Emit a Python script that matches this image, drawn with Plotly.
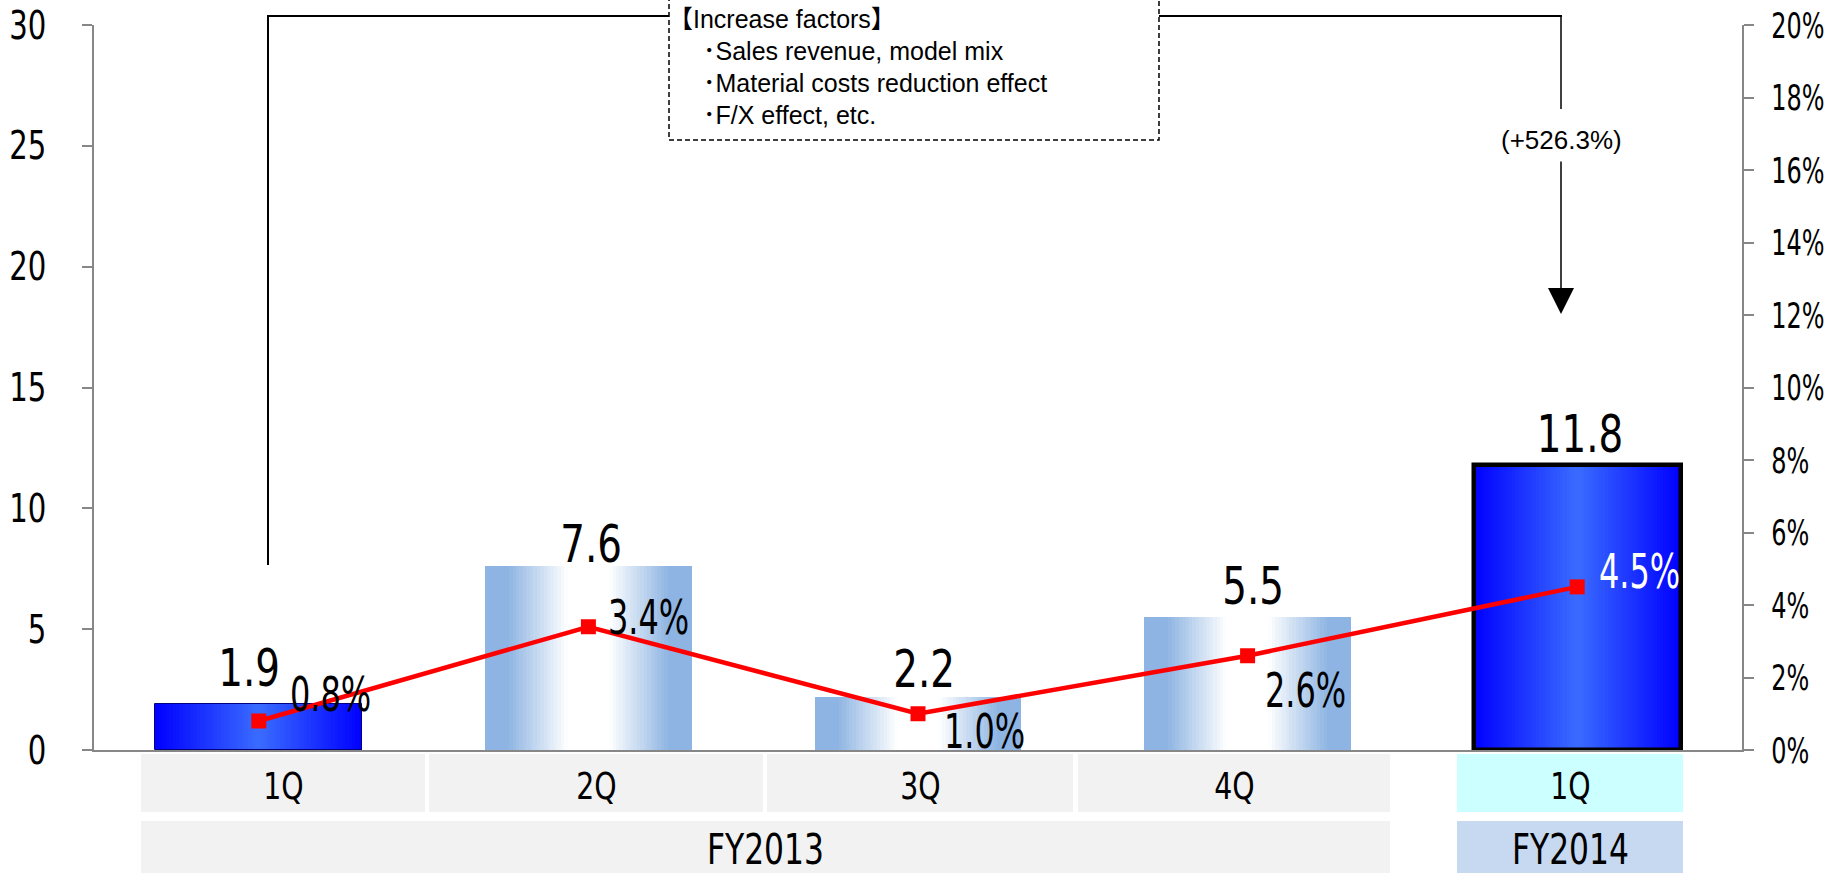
import plotly.graph_objects as go

# ---------------- data ----------------
quarters = ["1Q", "2Q", "3Q", "4Q", "1Q"]
fiscal_years = ["FY2013", "FY2014"]
op_income = [1.9, 7.6, 2.2, 5.5, 11.8]          # bars, left axis
op_margin = [0.8, 3.4, 1.0, 2.6, 4.5]           # line, right axis (%)
income_labels = ["1.9", "7.6", "2.2", "5.5", "11.8"]
margin_labels = ["0.8%", "3.4%", "1.0%", "2.6%", "4.5%"]
left_ticks = [0, 5, 10, 15, 20, 25, 30]
right_ticks = [0, 2, 4, 6, 8, 10, 12, 14, 16, 18, 20]
right_ticktext = ["0%", "2%", "4%", "6%", "8%", "10%", "12%", "14%", "16%", "18%", "20%"]
yoy_text = "(+526.3%)"
factor_title = "【Increase factors】"
factor_items = ["Sales revenue, model mix", "Material costs reduction effect", "F/X effect, etc."]

# ---------------- style ----------------
W, H = 1847, 873
ML, MR, MT, MB = 94, 105, 25, 123
PW, PH = W - ML - MR, H - MT - MB
NARROW = "DejaVu Sans Condensed"
REG = "'Liberation Sans', Arial, 'Noto Sans CJK JP', sans-serif"
AXIS_COL = "#878787"
highlight = [True, False, False, False, True]
BAR_W = 0.628
N_STEPS = 30


def px(v):
    return (v - ML) / PW


def py(v):
    return (H - MB - v) / PH


def mix(c1, c2, f):
    a = [int(c1[i:i + 2], 16) for i in (1, 3, 5)]
    b = [int(c2[i:i + 2], 16) for i in (1, 3, 5)]
    return "rgb(%d,%d,%d)" % tuple(round(a[j] + (b[j] - a[j]) * f) for j in range(3))


def grad(t, hl):
    # t: 0 at bar centre, 1 at bar edge
    if hl:
        return mix("#3A6CFF", "#0000FF", t)
    f = min(max((t - 0.2) / 0.58, 0), 1)
    return mix("#FFFFFF", "#8DB4E2", f)


x = list(range(len(quarters)))
fig = go.Figure()

for k in range(N_STEPS):
    frac = 1 - k / N_STEPS
    t = 1 - (k + 0.5) / N_STEPS
    fig.add_trace(go.Bar(
        x=x, y=op_income, width=BAR_W * frac,
        marker=dict(color=[grad(t, h) for h in highlight], line=dict(width=0)),
        showlegend=False, hoverinfo="skip"))

# outline
fig.add_trace(go.Bar(
    x=x, y=op_income, width=BAR_W,
    marker=dict(color="rgba(0,0,0,0)",
                line=dict(width=[1, 0, 0, 0, 4.5],
                          color=["#000080", "rgba(0,0,0,0)", "rgba(0,0,0,0)", "rgba(0,0,0,0)", "#000000"])),
    showlegend=False, hoverinfo="skip"))

fig.add_trace(go.Scatter(
    x=x, y=op_margin, yaxis="y2", mode="lines+markers",
    line=dict(color="#FF0000", width=4.5),
    marker=dict(symbol="square", size=15, color="#FF0000"),
    showlegend=False, hoverinfo="skip", cliponaxis=False))

annotations = []
# value labels above bars
val_shift = [(-10, 4), (3, -10), (6, -4), (5, -1), (3, -1)]
for i, lab in enumerate(income_labels):
    annotations.append(dict(x=x[i], y=op_income[i], xref="x", yref="y", text=lab,
                            showarrow=False, xanchor="center", yanchor="bottom",
                            xshift=val_shift[i][0], yshift=val_shift[i][1],
                            font=dict(family=NARROW, size=52, color="#000000")))

# margin labels
pct_shift = [(29, 27), (18, 10), (24, -17), (15, -34), (20, 16)]
pct_col = ["#000000"] * 4 + ["#FFFFFF"]
for i, lab in enumerate(margin_labels):
    annotations.append(dict(x=x[i], y=op_margin[i], xref="x", yref="y2", text=lab,
                            showarrow=False, xanchor="left", yanchor="middle", align="left",
                            xshift=pct_shift[i][0], yshift=pct_shift[i][1],
                            font=dict(family=NARROW, size=48, color=pct_col[i])))

shapes = []
# category table
row1 = [(141, 425), (429, 763), (767, 1073), (1078, 1390), (1457, 1683)]
row1_col = ["#F2F2F2"] * 4 + ["#CCFFFF"]
for (a, b), c, q in zip(row1, row1_col, quarters):
    shapes.append(dict(type="rect", xref="paper", yref="paper", x0=px(a), x1=px(b),
                       y0=py(812), y1=py(754), fillcolor=c, line=dict(width=0), layer="below"))
    annotations.append(dict(x=px((a + b) / 2), y=py(786), xref="paper", yref="paper", text=q,
                            showarrow=False, xanchor="center", yanchor="middle",
                            font=dict(family=NARROW, size=38, color="#000000")))
row2 = [(141, 1390), (1457, 1683)]
row2_col = ["#F2F2F2", "#C6D9F1"]
for (a, b), c, fy in zip(row2, row2_col, fiscal_years):
    shapes.append(dict(type="rect", xref="paper", yref="paper", x0=px(a), x1=px(b),
                       y0=py(880), y1=py(821), fillcolor=c, line=dict(width=0), layer="below"))
    annotations.append(dict(x=px((a + b) / 2), y=py(849), xref="paper", yref="paper", text=fy,
                            showarrow=False, xanchor="center", yanchor="middle",
                            font=dict(family=NARROW, size=42, color="#000000")))


# bracket lines
def seg(x0, y0, x1, y1, w):
    shapes.append(dict(type="line", xref="paper", yref="paper", x0=px(x0), y0=py(y0),
                       x1=px(x1), y1=py(y1), line=dict(color="#000000", width=w)))


seg(268, 16, 268, 565, 2)
seg(267, 16, 669, 16, 2)
seg(1159, 16, 1562, 16, 2)
seg(1561, 16, 1561, 109, 1.5)
shapes.append(dict(type="rect", xref="paper", yref="paper", x0=px(669), x1=px(1159),
                   y0=py(140), y1=py(-10), fillcolor="#FFFFFF",
                   line=dict(color="#000000", width=1.5, dash="5px,3px")))

annotations.append(dict(x=px(666), y=py(19), xref="paper", yref="paper", text=factor_title,
                        showarrow=False, xanchor="left", yanchor="middle",
                        font=dict(family=REG, size=25, color="#000000")))
for j, item in enumerate(factor_items):
    annotations.append(dict(x=px(701), y=py(51 + 32 * j), xref="paper", yref="paper",
                            text="･" + item, showarrow=False, xanchor="left", yanchor="middle",
                            font=dict(family=REG, size=25, color="#000000")))

# growth arrow
annotations.append(dict(x=px(1561), y=py(314), xref="paper", yref="paper", text=yoy_text,
                        showarrow=True, arrowhead=2, arrowwidth=1.5, arrowsize=3.47,
                        arrowcolor="#000000", ax=0, ay=-174, startstandoff=5,
                        font=dict(family=REG, size=26, color="#000000")))

fig.update_layout(
    width=W, height=H, margin=dict(l=ML, r=MR, t=MT, b=MB, autoexpand=False),
    barmode="overlay", bargap=0,
    plot_bgcolor="#FFFFFF", paper_bgcolor="#FFFFFF",
    showlegend=False,
    xaxis=dict(range=[-0.5, 4.5], showticklabels=False, ticks="", showgrid=False, zeroline=False,
               showline=True, linecolor=AXIS_COL, linewidth=2, automargin=False),
    yaxis=dict(range=[0, 30], tickvals=left_ticks, ticks="outside", ticklen=10, tickwidth=2,
               tickcolor=AXIS_COL, showline=True, linecolor=AXIS_COL, linewidth=2,
               showgrid=False, zeroline=False, ticklabelstandoff=28, automargin=False,
               tickfont=dict(family=NARROW, size=39, color="#000000")),
    yaxis2=dict(range=[0, 20], overlaying="y", side="right", tickvals=right_ticks,
                ticktext=right_ticktext, ticks="outside", ticklen=10, tickwidth=2,
                tickcolor=AXIS_COL, showline=True, linecolor=AXIS_COL, linewidth=2,
                showgrid=False, zeroline=False, ticklabelstandoff=10, automargin=False,
                tickfont=dict(family=NARROW, size=36, color="#000000")),
    shapes=shapes, annotations=annotations,
)

post = """
document.body.style.margin='0';
document.body.style.overflow='hidden';
document.querySelectorAll('text').forEach(function(t){
  var ff = (t.style && t.style.fontFamily) || '';
  if (ff.indexOf('Condensed') < 0) return;
  var s = t.textContent || '';
  var f = s.indexOf('%') >= 0 ? 0.74 : 0.83;
  var L = t.getComputedTextLength();
  if (L > 0) {
    t.setAttribute('textLength', (L * f).toFixed(2));
    t.setAttribute('lengthAdjust', 'spacingAndGlyphs');
  }
});
"""

fig.write_html("out.html", config={"displayModeBar": False}, post_script=post)
